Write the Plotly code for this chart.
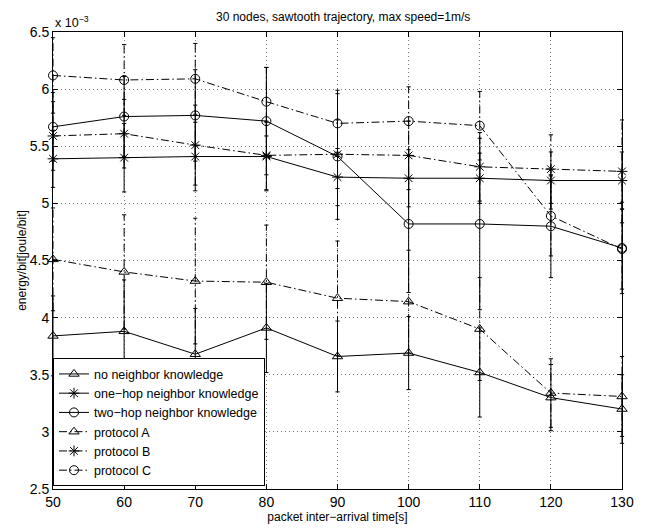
import plotly.graph_objects as go

# packet inter-arrival time [s]
arrival = [50, 60, 70, 80, 90, 100, 110, 120, 130]

# mean energy per bit, in units of 1e-3 joule/bit
no_neighbor = [3.84, 3.88, 3.68, 3.91, 3.66, 3.69, 3.52, 3.30, 3.20]
one_hop = [5.39, 5.40, 5.41, 5.41, 5.23, 5.22, 5.22, 5.20, 5.20]
two_hop = [5.67, 5.76, 5.77, 5.72, 5.41, 4.82, 4.82, 4.80, 4.61]
protocol_a = [4.51, 4.40, 4.32, 4.31, 4.17, 4.14, 3.90, 3.34, 3.31]
protocol_b = [5.59, 5.61, 5.51, 5.42, 5.43, 5.42, 5.32, 5.30, 5.28]
protocol_c = [6.12, 6.08, 6.09, 5.89, 5.70, 5.72, 5.68, 4.89, 4.60]

# half-width of the error bars (same units)
err_no_neighbor = [0.35, 0.45, 0.40, 0.39, 0.31, 0.32, 0.39, 0.29, 0.30]
err_one_hop = [0.25, 0.30, 0.30, 0.30, 0.25, 0.25, 0.22, 0.25, 0.25]
err_two_hop = [0.30, 0.35, 0.40, 0.47, 0.55, 0.60, 0.75, 0.45, 0.40]
err_protocol_a = [0.45, 0.50, 0.55, 0.50, 0.50, 0.45, 0.45, 0.30, 0.35]
err_protocol_b = [0.30, 0.30, 0.35, 0.30, 0.30, 0.30, 0.30, 0.30, 0.45]
err_protocol_c = [0.33, 0.31, 0.31, 0.30, 0.29, 0.30, 0.30, 0.35, 0.35]

DASHDOT = "8px,3px,1.5px,3px"
series = [
    ("no neighbor knowledge", no_neighbor, err_no_neighbor, "solid", "triangle-up-open"),
    ("one\u2212hop neighbor knowledge", one_hop, err_one_hop, "solid", "asterisk-open"),
    ("two\u2212hop neighbor knowledge", two_hop, err_two_hop, "solid", "circle-open"),
    ("protocol A", protocol_a, err_protocol_a, DASHDOT, "triangle-up-open"),
    ("protocol B", protocol_b, err_protocol_b, DASHDOT, "asterisk-open"),
    ("protocol C", protocol_c, err_protocol_c, DASHDOT, "circle-open"),
]

FONT = "Liberation Sans, Arial, sans-serif"
fig = go.Figure()

# error bars drawn as vertical segments so they can carry the series' line style
for name, vals, errs, dash, sym in series:
    ex, ey = [], []
    for x, v, e in zip(arrival, vals, errs):
        ex += [x, x, None]
        ey += [v - e, v + e, None]
    fig.add_trace(go.Scatter(
        x=ex, y=ey, mode="lines+markers",
        line=dict(color="black", width=1, dash=dash),
        marker=dict(symbol="line-ew", size=3, color="black",
                    line=dict(color="black", width=1)),
        showlegend=False, hoverinfo="skip", cliponaxis=False,
    ))

for name, vals, errs, dash, sym in series:
    fig.add_trace(go.Scatter(
        x=arrival, y=vals, name=name, mode="lines+markers",
        line=dict(color="black", width=1, dash=dash),
        marker=dict(symbol=sym, size=9, color="black",
                    line=dict(color="black", width=1)),
        cliponaxis=False,
    ))

axis_common = dict(
    showline=True, linecolor="black", linewidth=1, mirror="allticks",
    ticks="inside", ticklen=5, tickcolor="black",
    showgrid=True, gridcolor="#777", gridwidth=1, griddash="1px,3px",
    zeroline=False, ticklabeloverflow="allow",
    tickfont=dict(family=FONT, size=14, color="black"),
)

fig.update_layout(
    width=645, height=529,
    margin=dict(l=53, r=11, t=32, b=39),
    paper_bgcolor="white", plot_bgcolor="white",
    font=dict(family=FONT, size=12, color="black"),
    title=dict(text="30 nodes, sawtooth trajectory, max speed=1m/s",
               x=0.532, xanchor="center", y=0.968, yanchor="middle",
               font=dict(family=FONT, size=12, color="black")),
    xaxis=dict(range=[50, 130], dtick=10, tick0=50,
               title=dict(text="packet inter\u2212arrival time[s]", standoff=0,
                          font=dict(family=FONT, size=12)),
               **axis_common),
    yaxis=dict(range=[2.5, 6.5],
               tickvals=[2.5, 3, 3.5, 4, 4.5, 5, 5.5, 6, 6.5],
               ticktext=["2.5", "3", "3.5", "4", "4.5", "5", "5.5", "6", "6.5"],
               title=dict(text="energy/bit[joule/bit]", standoff=0,
                          font=dict(family=FONT, size=12)),
               **axis_common),
    legend=dict(x=0.0, y=0.286, xanchor="left", yanchor="top",
                bgcolor="white", bordercolor="black", borderwidth=1,
                font=dict(family=FONT, size=12.5, color="black"),
                tracegroupgap=0),
    annotations=[dict(text="x 10<sup>\u22123</sup>", xref="paper", yref="paper",
                      x=0.0, y=1.0, xanchor="left", yanchor="bottom",
                      showarrow=False, font=dict(family=FONT, size=12.5, color="black"))],
)

fig.write_html("out.html")
